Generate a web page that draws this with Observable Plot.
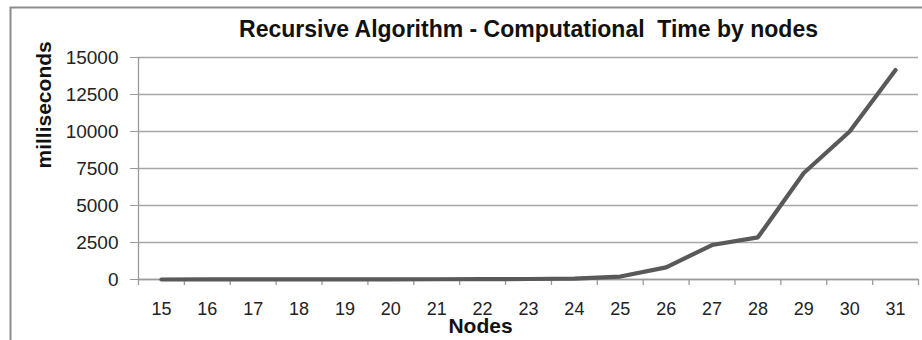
<!DOCTYPE html>
<html>
<head>
<meta charset="utf-8">
<script src="https://cdn.jsdelivr.net/npm/d3@7"></script>
<script src="https://cdn.jsdelivr.net/npm/@observablehq/plot@0.6"></script>
<style>
  html, body { margin: 0; padding: 0; background: #fff; }
  #chart { width: 922px; height: 340px; }
  svg { display: block; }
</style>
</head>
<body>
<div id="chart"></div>
<script>
const title = "Recursive Algorithm - Computational  Time by nodes";
const yLabel = "milliseconds";
const xLabel = "Nodes";
const nodes = [15, 16, 17, 18, 19, 20, 21, 22, 23, 24, 25, 26, 27, 28, 29, 30, 31];
const millis = [1, 2, 3, 5, 8, 12, 18, 25, 35, 60, 200, 820, 2330, 2850, 7200, 10000, 14150];
const yTicks = [0, 2500, 5000, 7500, 10000, 12500, 15000];

const data = nodes.map((n, i) => ({ n, ms: millis[i] }));
const bounds = [nodes[0] - 0.5, ...nodes.map(n => n + 0.5)];

const font = "'Liberation Sans', Arial, sans-serif";
const axisGray = "#9a9a9a";

const plot = Plot.plot({
  width: 922,
  height: 340,
  marginLeft: 138,
  marginRight: 4,
  marginTop: 57,
  marginBottom: 61,
  style: { fontFamily: font, fontSize: "19px", color: "#222", background: "#fff", overflow: "visible" },
  x: { domain: [nodes[0] - 0.5, nodes[nodes.length - 1] + 0.5] },
  y: { domain: [0, 15000] },
  marks: [
    Plot.gridY(yTicks, { stroke: "#a6a6a6", strokeOpacity: 1, strokeWidth: 1.3 }),
    Plot.axisY({ ticks: yTicks, tickSize: 8, tickPadding: 12, label: null, stroke: axisGray, tickFormat: d => String(d), fill: "#222" }),
    Plot.ruleX([nodes[0] - 0.5], { stroke: axisGray, strokeWidth: 1.3 }),
    Plot.axisX({ ticks: bounds, tickSize: 6, tickFormat: () => "", label: null, stroke: axisGray, strokeWidth: 1.3 }),
    Plot.axisX({ ticks: nodes, tickSize: 0, tickPadding: 23, label: null, tickFormat: d => String(d), fill: "#222", fontSize: 18 }),
    Plot.ruleY([0], { stroke: axisGray, strokeWidth: 1.3 }),
    Plot.line(data, { x: "n", y: "ms", stroke: "#595959", strokeWidth: 4.2, strokeLinejoin: "round" }),
    Plot.text([title], { frameAnchor: "top", lineAnchor: "middle", dy: -28, text: d => d, fontSize: 23, fontWeight: "bold", fill: "#111" }),
    Plot.text([yLabel], { frameAnchor: "left", dx: -94, dy: 0, rotate: -90, text: d => d, fontSize: 21, fontWeight: "bold", fill: "#111" }),
    Plot.text([xLabel], { frameAnchor: "bottom", lineAnchor: "middle", dx: -48, dy: 47, text: d => d, fontSize: 21, fontWeight: "bold", fill: "#111" })
  ]
});

// outer chart-area border (top and left edges visible)
const svg = d3.select(plot);
svg.insert("path", ":first-child")
  .attr("d", "M10.5,340 L10.5,7.5 L922,7.5")
  .attr("fill", "none")
  .attr("stroke", "#8c8c8c")
  .attr("stroke-width", 2);

document.getElementById("chart").appendChild(plot);
</script>
</body>
</html>
